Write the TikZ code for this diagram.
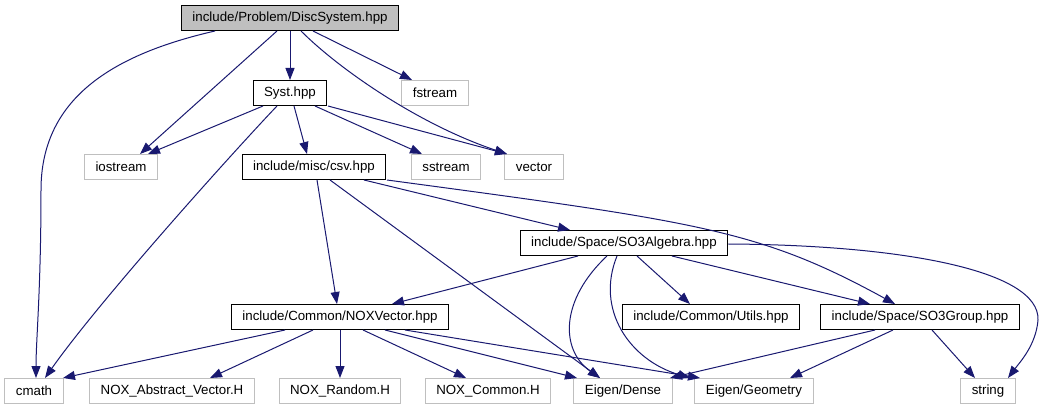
\documentclass[tikz,border=0pt]{standalone}
\usepackage{fontspec}
\setmainfont{Liberation Sans}
\usetikzlibrary{arrows.meta}
\definecolor{edgeblue}{HTML}{191970}
\definecolor{boxgray}{HTML}{BFBFBF}
\tikzset{
	file/.style={draw=black, fill=white, line width=1pt, inner xsep=11pt, inner ysep=0pt,
		minimum height=25pt, font=\fontsize{13.3}{16}\selectfont},
	sysfile/.style={file, draw=boxgray},
	mainfile/.style={file, fill=boxgray},
	dep/.style={draw=edgeblue, line width=1pt, -{Triangle[length=12pt,width=9pt]}}
}
\begin{document}
\begin{tikzpicture}[x=1pt,y=-1pt]
		\useasboundingbox (0,0) rectangle (1043,411);
		% files
		\node[mainfile] (disc) at (290,18) {include/Problem/DiscSystem.hpp};
		\node[file] (syst) at (290,93) {Syst.hpp};
		\node[sysfile] (fstream) at (435,93) {fstream};
		\node[sysfile] (iostream) at (121,167) {iostream};
		\node[file] (csv) at (314,167) {include/misc/csv.hpp};
		\node[sysfile] (sstream) at (446,167) {sstream};
		\node[sysfile] (vector) at (534,167) {vector};
		\node[file] (alg) at (624,243) {include/Space/SO3Algebra.hpp};
		\node[file] (nox) at (340,317) {include/Common/NOXVector.hpp};
		\node[file] (utils) at (711,317) {include/Common/Utils.hpp};
		\node[file] (grp) at (920,317) {include/Space/SO3Group.hpp};
		
		% system headers, bottom row
		\foreach \n/\x/\t in {cmath/34/cmath, abs/172/NOX\_Abstract\_Vector.H,
			rand/340/NOX\_Random.H, common/488/NOX\_Common.H, dense/623/{Eigen/Dense},
			geom/754/{Eigen/Geometry}, string/988/string}
		\node[sysfile] (\n) at (\x,391) {\t};
		
		% straight includes
		\foreach \a/\sa/\b/\sb in {disc/-13/iostream/19, disc/0/syst/0, disc/23/fstream/-23,
			syst/-27/iostream/27, syst/4/csv/-7, syst/25/sstream/-24, syst/38/vector/-27,
			csv/3/nox/-3, csv/16/dense/-23, csv/50/alg/-54,
			alg/-46/nox/52, alg/13/utils/-21, alg/48/grp/-50,
			nox/-55/cmath/29, nox/-27/abs/38, nox/0/rand/0, nox/23/common/-22,
			nox/45/dense/-46, nox/65/geom/-54,
			grp/-45/dense/47, grp/-27/geom/36, grp/12/string/-13}
		\draw[dep] ([xshift=\sa pt]\a.south) -- ([xshift=\sb pt]\b.north);
		
		% curved includes
		\draw[dep] ([xshift=-75pt]disc.south) .. controls (110,55) and (41,100) .. (41,190)
			.. controls (41,290) and (36,340) .. ([xshift=2pt]cmath.north);
		\draw[dep] ([xshift=11pt]disc.south) .. controls (340,70) and (420,125) .. ([xshift=-27pt]vector.north);
		\draw[dep] ([xshift=-13pt]syst.south) .. controls (235,150) and (100,300) .. ([xshift=11pt]cmath.north);
		\draw[dep] ([xshift=73pt]csv.south) .. controls (700,222) and (760,230) .. ([xshift=-25pt]grp.north);
		\draw[dep] ([xshift=-17pt]alg.south) .. controls (560,300) and (560,350) .. ([xshift=-23pt]dense.north);
		\draw[dep] ([xshift=-7pt]alg.south) .. controls (595,310) and (630,360) .. ([xshift=-64pt]geom.north);
		\draw[dep] ([yshift=-1pt]alg.east) .. controls (900,245) and (1040,270) .. (1038,320)
			.. controls (1036,345) and (1020,362) .. ([xshift=20pt]string.north);
	\end{tikzpicture}
\end{document}
